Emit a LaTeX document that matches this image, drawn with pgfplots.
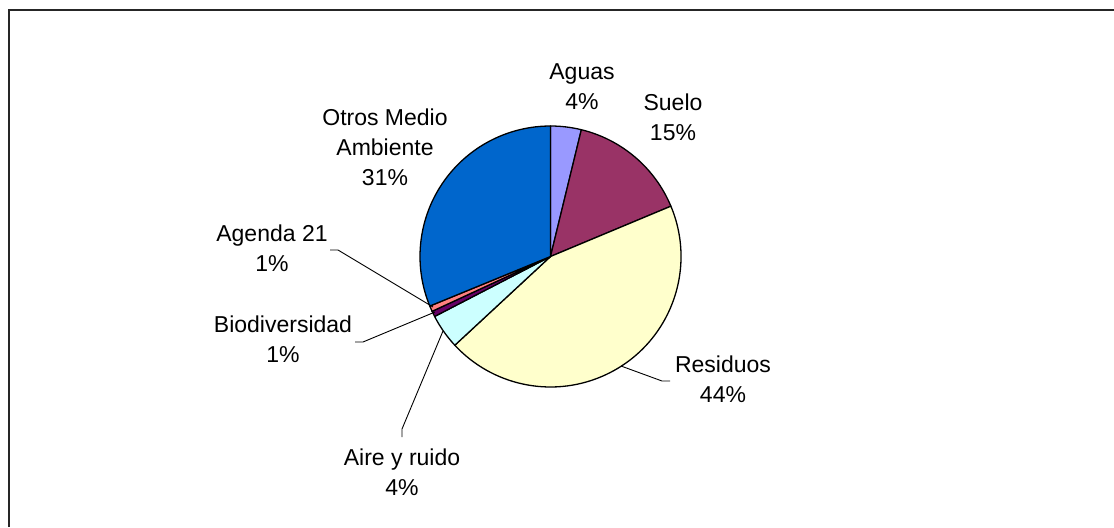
\documentclass[border=0pt]{standalone}
\usepackage{pgfplots}
\pgfplotsset{compat=1.18}
\usepackage{fontspec}
\setmainfont{Liberation Sans}
\definecolor{cAguas}{HTML}{9999FF}
\definecolor{cSuelo}{HTML}{993366}
\definecolor{cRes}{HTML}{FFFFCC}
\definecolor{cAire}{HTML}{CCFFFF}
\definecolor{cBio}{HTML}{660066}
\definecolor{cAg}{HTML}{FF8080}
\definecolor{cOtros}{HTML}{0066CC}
% #1 = cumulative start (%), #2 = value (%), #3 = colour
\newcommand{\slice}[3]{%
  \filldraw[fill=#3,draw=black,line width=0.65pt,line join=round]
    (axis cs:550.5,256.5) -- ++({90-3.6*(#1)}:65.25pt)
    arc[start angle={90-3.6*(#1)}, end angle={90-3.6*(#1+#2)}, radius=65.25pt] -- cycle;}
\begin{document}
\begin{tikzpicture}
\begin{axis}[width=557pt,height=263.5pt,scale only axis,
  xmin=0,xmax=1114,ymin=0,ymax=527,y dir=reverse,hide axis,clip=false]
% values (%): Aguas 3.8, Suelo 14.9, Residuos 44.4, Aire y ruido 4.3,
% Biodiversidad 0.7, Agenda 21 0.7, Otros Medio Ambiente 31.2
\slice{0}{3.8}{cAguas}
\slice{3.8}{14.9}{cSuelo}
\slice{18.7}{44.4}{cRes}
\slice{63.1}{4.3}{cAire}
\slice{67.4}{0.7}{cBio}
\slice{68.1}{0.7}{cAg}
\slice{68.8}{31.2}{cOtros}
% frame
\draw[line width=0.9pt,black!85] (axis cs:9,527) -- (axis cs:9,10) -- (axis cs:1114,10);
% leader lines
\draw[line width=0.45pt] (axis cs:330,250) -- (axis cs:338,250) -- (axis cs:433,307);
\draw[line width=0.45pt] (axis cs:355,342) -- (axis cs:363,342) -- (axis cs:435,312);
\draw[line width=0.45pt] (axis cs:402,437) -- (axis cs:402,429) -- (axis cs:443,331);
\draw[line width=0.45pt] (axis cs:670,381) -- (axis cs:662,381) -- (axis cs:621,366);
% labels
\tikzset{lab/.style={align=center,inner sep=0pt,font=\fontsize{11.5}{15}\selectfont}}
\node[lab] at (axis cs:582,86.5) {Aguas\\4\%};
\node[lab] at (axis cs:673,117) {Suelo\\15\%};
\node[lab] at (axis cs:723,379.5) {Residuos\\44\%};
\node[lab] at (axis cs:402,472) {Aire y ruido\\4\%};
\node[lab] at (axis cs:283,339.5) {Biodiversidad\\1\%};
\node[lab] at (axis cs:272,248.5) {Agenda 21\\1\%};
\node[lab] at (axis cs:385,147.5) {Otros Medio\\Ambiente\\31\%};
\end{axis}
\pgfresetboundingbox
\useasboundingbox (current axis.south west) rectangle (current axis.north east);
\end{tikzpicture}
\end{document}
